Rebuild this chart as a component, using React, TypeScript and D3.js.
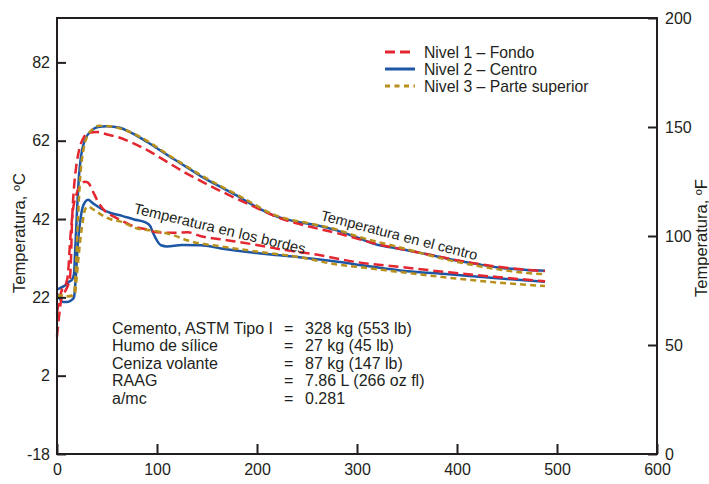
import React, { useRef, useEffect } from "react";
import * as d3 from "d3";

const width = 709;
const height = 484;
const margin = { left: 57, right: 52, top: 18, bottom: 30 };
const font = "'Liberation Sans', Arial, sans-serif";

// time in hours, temperature in ºC
const nivel1Centro = [
  [0, 12], [2, 17], [4, 21], [7, 23], [10, 24.5], [13, 27], [14, 32], [15, 41], [17, 50],
  [19, 55], [22, 59.5], [26, 62.5], [31, 64], [40, 64.2], [50, 63.6], [60, 63], [75, 61.5],
  [93, 59.2], [110, 56.6], [127, 54], [144, 51.7], [160, 49.6], [177, 47.5], [200, 44.8],
  [221, 42.4], [250, 40.2], [277, 38.6], [300, 37], [325, 35.3], [345, 34.3], [380, 32.5],
  [410, 31], [445, 29.7], [470, 29], [488, 28.7],
];
const nivel2Centro = [
  [0, 24], [4, 24.5], [8, 25], [12, 26], [15, 26.5], [17, 28], [18, 33], [20, 44], [22, 53],
  [24, 58], [28, 62.2], [35, 64.7], [41, 65.5], [50, 65.7], [63, 65.3], [72, 64.3], [83, 62.8],
  [98, 60.4], [113, 57.9], [130, 55.2], [146, 52.6], [165, 50], [183, 47.5], [200, 45],
  [220, 42.6], [240, 41.3], [256, 40.6], [277, 39.3], [300, 37.3], [318, 35.6], [345, 34.3],
  [370, 33], [392, 31.8], [420, 30.5], [445, 29.5], [470, 29], [488, 28.8],
];
const nivel3Centro = [
  [0, 22.5], [5, 22.5], [10, 22.3], [14, 22.3], [17, 23], [19, 30], [21, 42], [23, 52], [26, 59],
  [30, 63], [36, 65], [42, 65.8], [55, 65.6], [65, 65], [83, 63], [113, 58.1], [146, 52.9],
  [183, 47.8], [220, 42.8], [256, 40.7], [277, 39.5], [300, 37.6], [345, 34.6], [392, 31.5],
  [445, 29], [470, 28.2], [488, 27.9],
];
const nivel1Bordes = [
  [0, 18], [2, 21], [5, 24], [9, 25.5], [11, 28], [13, 36], [16, 44.4], [19, 48], [23, 50.5],
  [28, 51.5], [31, 51.3], [36, 49], [40, 46.9], [48, 44], [57, 42.6], [67, 41.3], [77, 40.1],
  [90, 39.3], [100, 38.6], [115, 38.5], [131, 38.6], [144, 37.6], [164, 36.8], [197, 35.5],
  [230, 34], [257, 33], [300, 31], [345, 29.7], [392, 28.4], [440, 27.2], [488, 26.1],
];
const nivel2Bordes = [
  [0, 23], [3, 21.5], [6, 20.8], [10, 20.8], [14, 21.2], [17, 22], [19, 28], [21, 36], [23, 41],
  [25, 44.4], [28, 46.3], [31, 46.9], [36, 46], [45, 44.5], [53, 43.6], [65, 42.8], [77, 41.9],
  [88, 41.2], [93, 40.3], [96, 38.5], [100, 36.5], [104, 35.3], [110, 35], [125, 35.4],
  [144, 35.3], [164, 34.5], [211, 33], [244, 32.2], [277, 31.2], [310, 30], [345, 28.8],
  [392, 27.9], [425, 27.2], [460, 26.5], [488, 26],
];
const nivel3Bordes = [
  [0, 22], [5, 22.5], [10, 22.3], [15, 22.5], [18, 23], [20, 28], [23, 36], [25, 40], [28, 44.4],
  [31, 45.2], [36, 44.5], [45, 43], [53, 42], [63, 41.4], [81, 39.5], [97, 39], [115, 38],
  [131, 36.5], [164, 35], [197, 33.8], [244, 32.2], [277, 30.5], [310, 29.5], [345, 28.4],
  [392, 27], [440, 25.8], [488, 24.9],
];

const xTicks = [0, 100, 200, 300, 400, 500, 600];
const cTicks = [-18, 2, 22, 42, 62, 82];
const fTicks = [0, 50, 100, 150, 200];

const legendLabels = ["Nivel 1 – Fondo", "Nivel 2 – Centro", "Nivel 3 – Parte superior"];
const mixNames = ["Cemento, ASTM Tipo I", "Humo de sílice", "Ceniza volante", "RAAG", "a/mc"];
const mixValues = ["328 kg (553 lb)", "27 kg (45 lb)", "87 kg (147 lb)", "7.86 L (266 oz  fl)", "0.281"];

const styles = [
  { color: "#e42630", dash: "10,5" },
  { color: "#1d56a4", dash: null },
  { color: "#b8901c", dash: "6,4" },
];

const x = d3.scaleLinear().domain([0, 600]).range([margin.left, width - margin.right]);
const yF = d3.scaleLinear().domain([0, 200]).range([height - margin.bottom, margin.top]);
const yC = d3
  .scaleLinear()
  .domain([-18, (200 - 32) / 1.8])
  .range([height - margin.bottom, margin.top]);

const line = d3
  .line<number[]>()
  .x((d) => x(d[0]))
  .y((d) => yC(d[1]))
  .curve(d3.curveMonotoneX);

const App = () => {
  const xAxisRef = useRef(null);
  const cAxisRef = useRef(null);
  const fAxisRef = useRef(null);

  useEffect(() => {
    const style = (g) => {
      g.attr("font-size", 16).attr("font-family", font);
      g.select(".domain").remove();
      g.selectAll("line").attr("stroke", "#231f20").attr("stroke-width", 2);
      g.selectAll("text").attr("fill", "#231f20");
    };
    const fmt = (d) => String(d);
    d3.select(xAxisRef.current)
      .call(d3.axisBottom(x).tickValues(xTicks).tickFormat(fmt).tickSize(-10).tickPadding(10))
      .call(style);
    d3.select(cAxisRef.current)
      .call(d3.axisLeft(yC).tickValues(cTicks).tickFormat(fmt).tickSize(-9).tickPadding(7))
      .call(style);
    d3.select(fAxisRef.current)
      .call(d3.axisRight(yF).tickValues(fTicks).tickFormat(fmt).tickSize(-9).tickPadding(8))
      .call(style);
  }, []);

  const series = [
    { data: nivel2Centro, s: styles[1] },
    { data: nivel2Bordes, s: styles[1] },
    { data: nivel1Centro, s: styles[0] },
    { data: nivel1Bordes, s: styles[0] },
    { data: nivel3Centro, s: styles[2] },
    { data: nivel3Bordes, s: styles[2] },
  ];

  return (
    <svg
      width={width}
      height={height}
      style={{ position: "absolute", left: 0, top: 0, background: "#fff" }}
      fontFamily={font}
    >
      {series.map((d, i) => (
        <path
          key={i}
          d={line(d.data)}
          fill="none"
          stroke={d.s.color}
          strokeWidth={2.5}
          strokeDasharray={d.s.dash || undefined}
        />
      ))}
      <rect
        x={margin.left}
        y={margin.top}
        width={width - margin.left - margin.right}
        height={height - margin.top - margin.bottom}
        fill="none"
        stroke="#231f20"
        strokeWidth={2}
      />
      <g ref={xAxisRef} transform={`translate(0, ${height - margin.bottom})`}></g>
      <g ref={cAxisRef} transform={`translate(${margin.left}, 0)`}></g>
      <g ref={fAxisRef} transform={`translate(${width - margin.right}, 0)`}></g>

      <text transform="translate(25, 233) rotate(-90)" textAnchor="middle" fontSize={16.5} fill="#231f20">
        Temperatura, ºC
      </text>
      <text transform="translate(707, 238) rotate(-90)" textAnchor="middle" fontSize={16.5} fill="#231f20">
        Temperatura, ºF
      </text>

      {legendLabels.map((label, i) => (
        <g key={label} transform={`translate(385, ${52 + i * 17})`}>
          <line
            x1={0}
            x2={30}
            y1={0}
            y2={0}
            stroke={styles[i].color}
            strokeWidth={3}
            strokeDasharray={i === 0 ? "10,5" : i === 2 ? "5,4.5" : undefined}
          />
          <text x={39} y={5.5} fontSize={15.75} fill="#231f20">
            {label}
          </text>
        </g>
      ))}

      {mixNames.map((name, i) => (
        <g key={name} transform={`translate(0, ${333.5 + i * 17.5})`} fontSize={16} fill="#231f20">
          <text x={112}>{name}</text>
          <text x={284}>=</text>
          <text x={305}>{mixValues[i]}</text>
        </g>
      ))}

      <text transform="translate(133, 213) rotate(13.5)" fontSize={14.8} fill="#231f20">
        Temperatura en los bordes
      </text>
      <text transform="translate(320, 220) rotate(14.5)" fontSize={14.5} fill="#231f20">
        Temperatura en el centro
      </text>
    </svg>
  );
};

export default App;
